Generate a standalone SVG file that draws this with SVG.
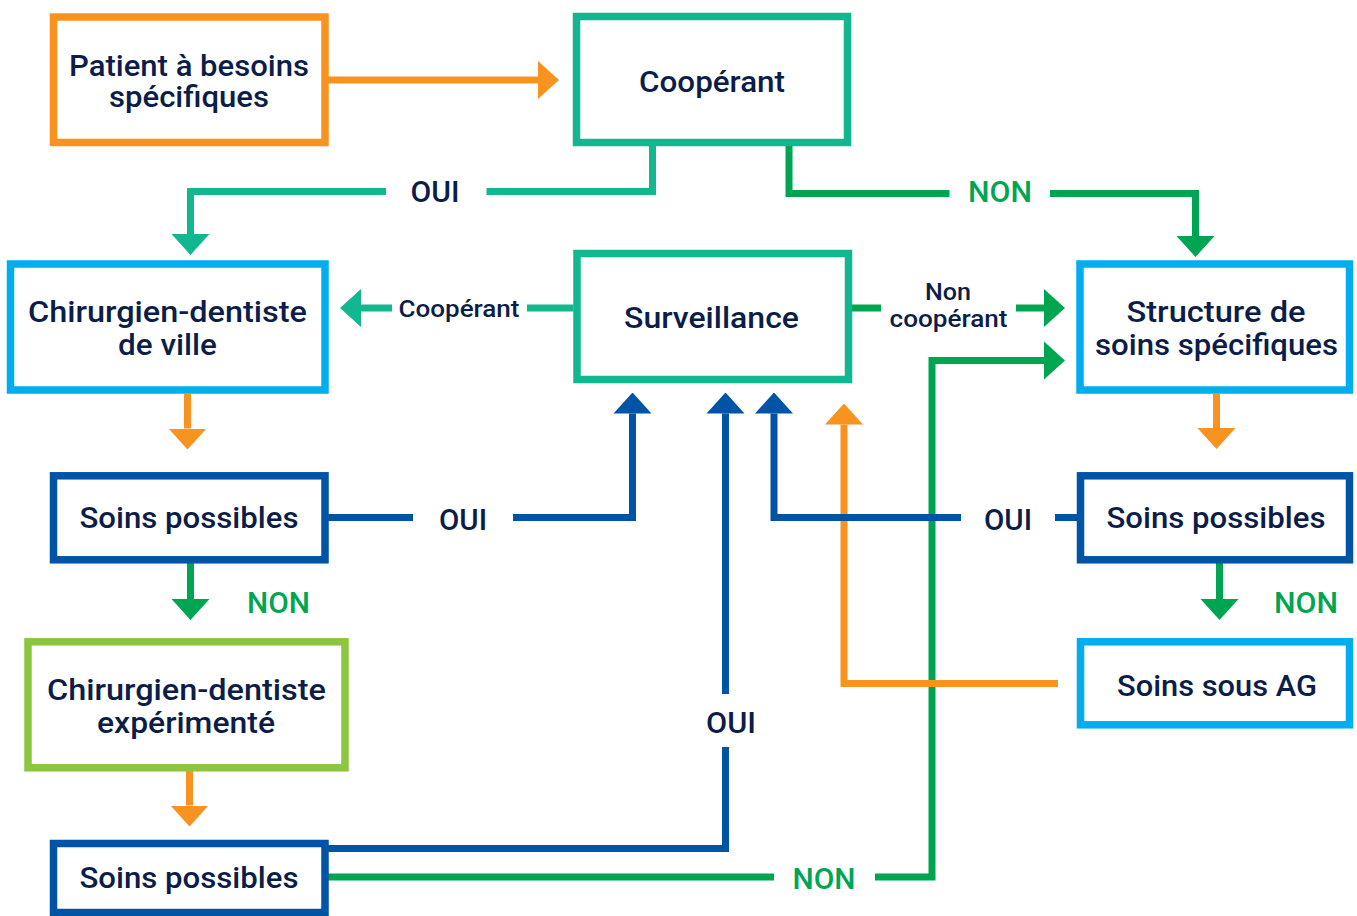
<svg xmlns="http://www.w3.org/2000/svg" width="1357" height="916" viewBox="0 0 1357 916">
<style>
.box{fill:#fff;stroke-width:7.5}
.t{font-family:Roboto,"Liberation Sans",Arial,sans-serif;font-size:29px;font-weight:500;fill:#0b1d48;text-anchor:middle}
.s{font-size:24px}
.g{fill:#00a551}
.c{fill:none;stroke-width:7;stroke-linejoin:miter;stroke-linecap:butt}
.or{stroke:#f7931e}.te{stroke:#12b790}.gr{stroke:#00a551}.bl{stroke:#0054a6}
</style>
<defs>
<marker id="aO" markerUnits="userSpaceOnUse" markerWidth="21" markerHeight="40" viewBox="0 0 21 40" refX="0" refY="20" orient="auto"><path d="M0,1 L21,20 L0,39 z" fill="#f7931e"/></marker>
<marker id="aT" markerUnits="userSpaceOnUse" markerWidth="21" markerHeight="40" viewBox="0 0 21 40" refX="0" refY="20" orient="auto"><path d="M0,1 L21,20 L0,39 z" fill="#12b790"/></marker>
<marker id="aG" markerUnits="userSpaceOnUse" markerWidth="21" markerHeight="40" viewBox="0 0 21 40" refX="0" refY="20" orient="auto"><path d="M0,1 L21,20 L0,39 z" fill="#00a551"/></marker>
<marker id="aB" markerUnits="userSpaceOnUse" markerWidth="21" markerHeight="40" viewBox="0 0 21 40" refX="0" refY="20" orient="auto"><path d="M0,1 L21,20 L0,39 z" fill="#0054a6"/></marker>
</defs>
<rect width="1357" height="916" fill="#fff"/>
<g id="connectors">
<path class="c te" d="M652.5,146 V191.5 H486.5"/>
<path class="c te" d="M386,191.5 H190.5 V234" marker-end="url(#aT)"/>
<path class="c te" d="M573.5,308 H527"/>
<path class="c te" d="M392,308 H361" marker-end="url(#aT)"/>
<path class="c gr" d="M789,146 V193.5 H949.5"/>
<path class="c gr" d="M1050,193.5 H1195.5 V236" marker-end="url(#aG)"/>
<path class="c gr" d="M852,308 H881"/>
<path class="c gr" d="M1016,308 H1044" marker-end="url(#aG)"/>
<path class="c gr" d="M190.5,563 V599" marker-end="url(#aG)"/>
<path class="c gr" d="M1219.5,563 V599" marker-end="url(#aG)"/>
<path class="c gr" d="M321,877 H774"/>
<path class="c gr" d="M875,877 H932 V360.5 H1044" marker-end="url(#aG)"/>
<path class="c or" d="M328,80 H538" marker-end="url(#aO)"/>
<path class="c or" d="M187.5,394 V428.5" marker-end="url(#aO)"/>
<path class="c or" d="M189.5,771 V805.5" marker-end="url(#aO)"/>
<path class="c or" d="M1216.5,394 V428" marker-end="url(#aO)"/>
<path class="c or" d="M1058,683.5 H844 V424.5" marker-end="url(#aO)"/>
<path class="c bl" d="M328,517.5 H413"/>
<path class="c bl" d="M513,517.5 H632.5 V413.5" marker-end="url(#aB)"/>
<path class="c bl" d="M328,848.5 H725.5 V747"/>
<path class="c bl" d="M725.5,694 V413.5" marker-end="url(#aB)"/>
<path class="c bl" d="M1077,517.5 H1055"/>
<path class="c bl" d="M961,517.5 H774 V413.5" marker-end="url(#aB)"/>
<text class="t" x="435" y="201.7" textLength="49" lengthAdjust="spacingAndGlyphs">OUI</text>
<text class="t g" x="1000" y="201.7" textLength="64" lengthAdjust="spacingAndGlyphs">NON</text>
<text class="t s" x="459" y="317" textLength="121" lengthAdjust="spacingAndGlyphs">Coopérant</text>
<text class="t s" x="948" y="300" textLength="46" lengthAdjust="spacingAndGlyphs">Non</text>
<text class="t s" x="948.5" y="327" textLength="118" lengthAdjust="spacingAndGlyphs">coopérant</text>
<text class="t" x="463" y="530" textLength="48" lengthAdjust="spacingAndGlyphs">OUI</text>
<text class="t" x="1008" y="530" textLength="48" lengthAdjust="spacingAndGlyphs">OUI</text>
<text class="t g" x="278.5" y="613" textLength="63" lengthAdjust="spacingAndGlyphs">NON</text>
<text class="t g" x="1306" y="613" textLength="64" lengthAdjust="spacingAndGlyphs">NON</text>
<text class="t" x="731" y="732.7" textLength="50" lengthAdjust="spacingAndGlyphs">OUI</text>
<text class="t g" x="824" y="889" textLength="63" lengthAdjust="spacingAndGlyphs">NON</text>
</g>
<g id="patient">
<rect class="box" x="53.5" y="17" width="271.5" height="125.5" stroke="#f7931e"/>
<text class="t" x="189" y="76" textLength="240" lengthAdjust="spacingAndGlyphs">Patient à besoins</text>
<text class="t" x="189" y="107" textLength="160" lengthAdjust="spacingAndGlyphs">spécifiques</text>
</g>
<g id="cooperant">
<rect class="box" x="576.5" y="16.5" width="271" height="126" stroke="#12b790"/>
<text class="t" x="712" y="92" textLength="146" lengthAdjust="spacingAndGlyphs">Coopérant</text>
</g>
<g id="dentiste-ville">
<rect class="box" x="10.5" y="264" width="314.5" height="126" stroke="#00aeef"/>
<text class="t" x="167.5" y="322" textLength="279" lengthAdjust="spacingAndGlyphs">Chirurgien-dentiste</text>
<text class="t" x="167.5" y="355" textLength="99" lengthAdjust="spacingAndGlyphs">de ville</text>
</g>
<g id="surveillance">
<rect class="box" x="577" y="253.5" width="271.5" height="126" stroke="#12b790"/>
<text class="t" x="711.5" y="328" textLength="175" lengthAdjust="spacingAndGlyphs">Surveillance</text>
</g>
<g id="structure">
<rect class="box" x="1080" y="264" width="269.5" height="126" stroke="#00aeef"/>
<text class="t" x="1216" y="322" textLength="179" lengthAdjust="spacingAndGlyphs">Structure de</text>
<text class="t" x="1216.5" y="355" textLength="243" lengthAdjust="spacingAndGlyphs">soins spécifiques</text>
</g>
<g id="soins-possibles-1">
<rect class="box" x="53.5" y="475.8" width="271.5" height="84" stroke="#0054a6"/>
<text class="t" x="189" y="528" textLength="219" lengthAdjust="spacingAndGlyphs">Soins possibles</text>
</g>
<g id="soins-possibles-2">
<rect class="box" x="1080.5" y="475.8" width="269" height="84" stroke="#0054a6"/>
<text class="t" x="1216" y="528" textLength="219" lengthAdjust="spacingAndGlyphs">Soins possibles</text>
</g>
<g id="dentiste-experimente">
<rect class="box" x="28" y="641.8" width="317" height="126" stroke="#8cc63f"/>
<text class="t" x="186.5" y="700" textLength="279" lengthAdjust="spacingAndGlyphs">Chirurgien-dentiste</text>
<text class="t" x="186" y="733" textLength="178" lengthAdjust="spacingAndGlyphs">expérimenté</text>
</g>
<g id="soins-sous-ag">
<rect class="box" x="1080.5" y="641.8" width="269" height="83" stroke="#00aeef"/>
<text class="t" x="1217" y="696" textLength="200" lengthAdjust="spacingAndGlyphs">Soins sous AG</text>
</g>
<g id="soins-possibles-3">
<rect class="box" x="53.5" y="843.5" width="271.5" height="69" stroke="#0054a6"/>
<text class="t" x="189" y="888" textLength="219" lengthAdjust="spacingAndGlyphs">Soins possibles</text>
</g>
</svg>
